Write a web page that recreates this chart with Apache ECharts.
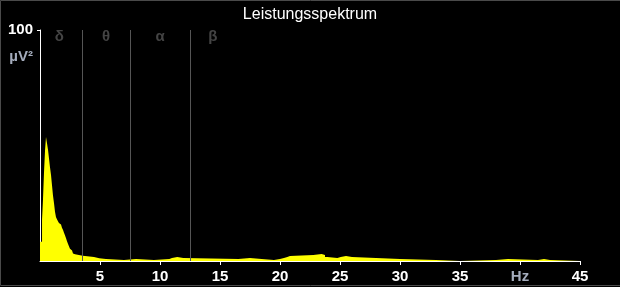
<!DOCTYPE html>
<html>
<head>
<meta charset="utf-8">
<script src="https://cdn.jsdelivr.net/npm/echarts@6/dist/echarts.min.js"></script>
<style>
html,body{margin:0;padding:0;background:#000;}
#chart{width:620px;height:287px;}
</style>
</head>
<body>
<div id="chart"></div>
<script>
// Frequency (Hz) where each spectral step starts, and its power (µV²)
const freqHz = [0, 0.08, 0.17, 0.25, 0.33, 0.42, 0.5, 0.58, 0.67, 0.75, 0.83, 0.92, 1.0, 1.08, 1.17, 1.25, 1.33, 1.42, 1.5, 1.58, 1.67, 1.75, 1.83, 1.92, 2.0, 2.08, 2.17, 2.25, 2.33, 2.42, 2.5, 2.58, 2.67, 2.75, 2.83, 2.92, 3.0,
  3.56, 4.5, 4.94, 5.5, 7.0, 8.0, 9.5, 10.78, 11.0, 11.44, 11.94, 16.53, 17.5, 18.47, 19.5, 20.0, 20.33, 20.61, 20.83, 22.78, 23.47, 23.75, 23.94, 24.78, 25.06, 25.5, 26.0, 28.0, 30.0, 33.0, 35.0, 38.0, 39.0, 41.5, 42.0, 42.5, 45];
const powerUV2 = [8.3, 8.3, 18, 26.7, 37.9, 47.9, 53.7, 51.1, 48, 44.4, 40.7, 37.1, 32.8, 28.5, 24.9, 21.3, 19.1, 18, 17.4, 16.5, 15.8, 15.1, 14.4, 13.4, 12.2, 11.1, 9.8, 8.6, 7.5, 6.3, 5.3, 4.5, 3.9, 3.3, 2.9, 2.6, 2.3,
  1.7, 1.2, 0.9, 0.45, 0.9, 0.45, 0.9, 1.3, 1.7, 1.3, 0.9, 1.3, 0.9, 0.45, 0.9, 1.3, 1.7, 2.2, 2.6, 3.0, 2.6, 1.7, 1.3, 1.7, 2.2, 1.7, 1.3, 0.9, 0.45, 0, 0.45, 0.9, 0.45, 0.9, 0.45, 0, 0];

const bandEdgesHz = [3.5, 7.5, 12.5];
const bandNames = ['δ', 'θ', 'α', 'β'];
const bandLabelHz = [1.6, 5.5, 10, 14.4];
const bandLabelLevel = 97;

const titleText = 'Leistungsspektrum';
const yUnit = 'µV²';
const xUnit = 'Hz';
const xUnitAtHz = 40;

const chart = echarts.init(document.getElementById('chart'), null, {renderer: 'canvas'});
const font = 'Liberation Sans, Arial, sans-serif';

chart.setOption({
  backgroundColor: '#000',
  animation: false,
  title: {
    text: titleText, left: 'center', top: 2,
    textStyle: {color: '#fff', fontSize: 16, fontWeight: 'normal', fontFamily: font}
  },
  graphic: [
    {type: 'rect', shape: {x: 0.5, y: 0.5, width: 620, height: 285}, style: {fill: 'none', stroke: '#4a4a4a', lineWidth: 1}, silent: true},
    {type: 'text', x: 33, y: 57, style: {text: yUnit, align: 'right', verticalAlign: 'middle', textAlign: 'right', textVerticalAlign: 'middle', fill: '#a4acbc', font: 'bold 15px ' + font}}
  ],
  grid: {left: 40, right: 40, top: 30, bottom: 26, containLabel: false},
  xAxis: {
    type: 'value', min: 0, max: 45, interval: 5,
    axisLine: {show: true, lineStyle: {color: '#fff', width: 1}},
    axisTick: {show: true, length: 4, lineStyle: {color: '#fff'}},
    splitLine: {show: false},
    axisLabel: {
      color: '#fff', fontSize: 15, fontWeight: 'bold', fontFamily: font, margin: 8,
      showMinLabel: false,
      formatter: v => v === xUnitAtHz ? '{hz|' + xUnit + '}' : String(v),
      rich: {hz: {color: '#a4acbc', fontSize: 15, fontWeight: 'bold', fontFamily: font}}
    }
  },
  yAxis: {
    type: 'value', min: 0, max: 100, interval: 100,
    axisLine: {show: true, lineStyle: {color: '#fff', width: 1}},
    axisTick: {show: true, length: 3, lineStyle: {color: '#fff'}},
    splitLine: {show: false},
    axisLabel: {color: '#fff', fontSize: 15, fontWeight: 'bold', fontFamily: font, margin: 7, showMinLabel: false}
  },
  series: [
    {
      type: 'line', step: 'end', symbol: 'none',
      data: freqHz.map((f, i) => [f, powerUV2[i]]),
      lineStyle: {width: 0, opacity: 0},
      areaStyle: {color: '#ffff00', opacity: 1},
      markLine: {
        silent: true, symbol: 'none',
        label: {show: false},
        lineStyle: {color: '#555', width: 1, type: 'solid'},
        data: bandEdgesHz.map(h => ({xAxis: h}))
      },
      z: 2
    },
    {
      type: 'scatter', symbolSize: 0,
      data: bandNames.map((n, i) => ({name: n, value: [bandLabelHz[i], bandLabelLevel]})),
      label: {show: true, position: 'inside', formatter: p => p.name, color: '#555', fontSize: 15, fontWeight: 'bold', fontFamily: font},
      z: 3
    }
  ]
});
</script>
</body>
</html>
